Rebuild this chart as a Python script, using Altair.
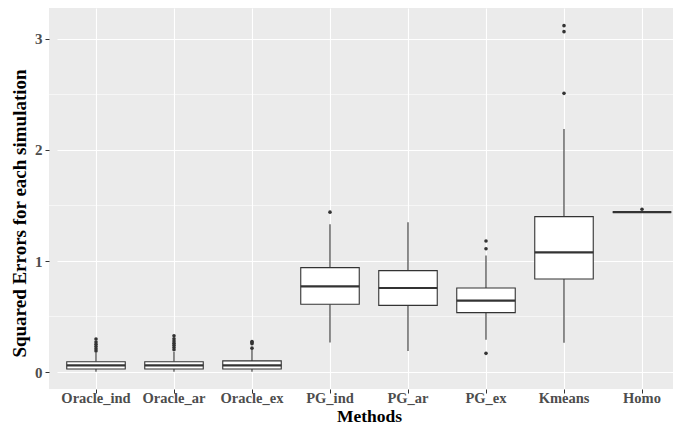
import altair as alt
import pandas as pd

methods = ["Oracle_ind", "Oracle_ar", "Oracle_ex", "PG_ind", "PG_ar", "PG_ex", "Kmeans", "Homo"]
lower_whisker = [0.003, 0.003, 0.003, 0.265, 0.19, 0.29, 0.264, 1.44]
q1 = [0.027, 0.027, 0.027, 0.61, 0.60, 0.535, 0.838, 1.44]
median = [0.060, 0.060, 0.060, 0.772, 0.757, 0.643, 1.078, 1.44]
q3 = [0.093, 0.093, 0.100, 0.94, 0.913, 0.757, 1.40, 1.44]
upper_whisker = [0.175, 0.18, 0.205, 1.33, 1.35, 1.05, 2.19, 1.44]

outliers_oracle_ind = [0.19, 0.21, 0.23, 0.25, 0.27, 0.297]
outliers_oracle_ar = [0.20, 0.22, 0.24, 0.26, 0.28, 0.30, 0.327]
outliers_oracle_ex = [0.215, 0.255, 0.265, 0.275]
outliers_pg_ind = [1.44]
outliers_pg_ar = []
outliers_pg_ex = [0.168, 1.11, 1.18]
outliers_kmeans = [2.51, 3.066, 3.12]
outliers_homo = [1.466]

y_breaks = [0, 1, 2, 3]
minor_breaks = [0.5, 1.5, 2.5]

FONT = "Liberation Serif"
DARK = "#333333"

summary = pd.DataFrame({
    "method": methods, "lo": lower_whisker, "q1": q1, "med": median,
    "q3": q3, "hi": upper_whisker,
})
out_lists = [outliers_oracle_ind, outliers_oracle_ar, outliers_oracle_ex, outliers_pg_ind,
             outliers_pg_ar, outliers_pg_ex, outliers_kmeans, outliers_homo]
outl = pd.DataFrame([{"method": m, "v": v} for m, vals in zip(methods, out_lists) for v in vals])
minor = pd.DataFrame({"y": minor_breaks})

W, H = 624, 381
xscale = alt.Scale(domain=methods, range=[8, 632], paddingInner=0, paddingOuter=0)
yscale = alt.Scale(domain=[-0.153, 3.279], nice=False, zero=False)

xaxis = alt.Axis(
    title="Methods", labelFont=FONT, labelFontSize=14.5, labelFontWeight="bold",
    labelColor="#4D4D4D", labelAngle=0, labelBaseline="alphabetic", labelPadding=9,
    tickSize=4, tickColor=DARK,
    tickWidth=1, domain=False, grid=True, gridColor="white", gridWidth=1.1,
    bandPosition=0.5, titleFont=FONT, titleFontSize=17.5, titleFontWeight="bold",
    titleColor="black", titleY=32, titleBaseline="alphabetic",
)
yaxis = alt.Axis(
    title="Squared Errors for each simulation", values=y_breaks, format="d",
    labelFont=FONT, labelFontSize=15, labelFontWeight="bold", labelColor="#4D4D4D",
    labelPadding=3, tickSize=4, tickColor=DARK, tickWidth=1, domain=False,
    grid=True, gridColor="white", gridWidth=1.1, titleFont=FONT, titleFontSize=19,
    titleFontWeight="bold", titleColor="black", titleX=-30, titleY=205,
    titleBaseline="middle", titleAlign="center", titleAngle=270,
)

minor_rules = alt.Chart(minor).mark_rule(color="white", strokeWidth=0.55).encode(
    y=alt.Y("y:Q", scale=yscale, axis=yaxis)
)

base = alt.Chart(summary)
whisk_lo = base.mark_rule(color=DARK, strokeWidth=1.1).encode(
    x=alt.X("method:N", scale=xscale, axis=xaxis, sort=methods),
    y=alt.Y("lo:Q", scale=yscale), y2="q1:Q",
)
whisk_hi = base.mark_rule(color=DARK, strokeWidth=1.1).encode(
    x=alt.X("method:N", scale=xscale, sort=methods),
    y=alt.Y("q3:Q", scale=yscale), y2="hi:Q",
)
box = base.mark_bar(fill="white", stroke=DARK, strokeWidth=1.1,
                    width=alt.RelativeBandSize(0.75)).encode(
    x=alt.X("method:N", scale=xscale, sort=methods),
    y=alt.Y("q1:Q", scale=yscale), y2="q3:Q",
)
med = base.mark_tick(color=DARK, size=58.5, thickness=2.2, opacity=1).encode(
    x=alt.X("method:N", scale=xscale, sort=methods),
    y=alt.Y("med:Q", scale=yscale),
)
pts = alt.Chart(outl).mark_circle(color=DARK, size=13, opacity=1).encode(
    x=alt.X("method:N", scale=xscale, sort=methods),
    y=alt.Y("v:Q", scale=yscale),
)

chart = alt.layer(minor_rules, whisk_lo, whisk_hi, box, med, pts).properties(
    width=W, height=H,
    background="white",
    autosize=alt.AutoSizeParams(type="none"),
    padding={"left": 41, "top": 0, "right": 0, "bottom": 36},
).configure_view(fill="#EBEBEB", strokeWidth=0)

chart.save("out.html", embed_options={"renderer": "svg", "actions": False})
